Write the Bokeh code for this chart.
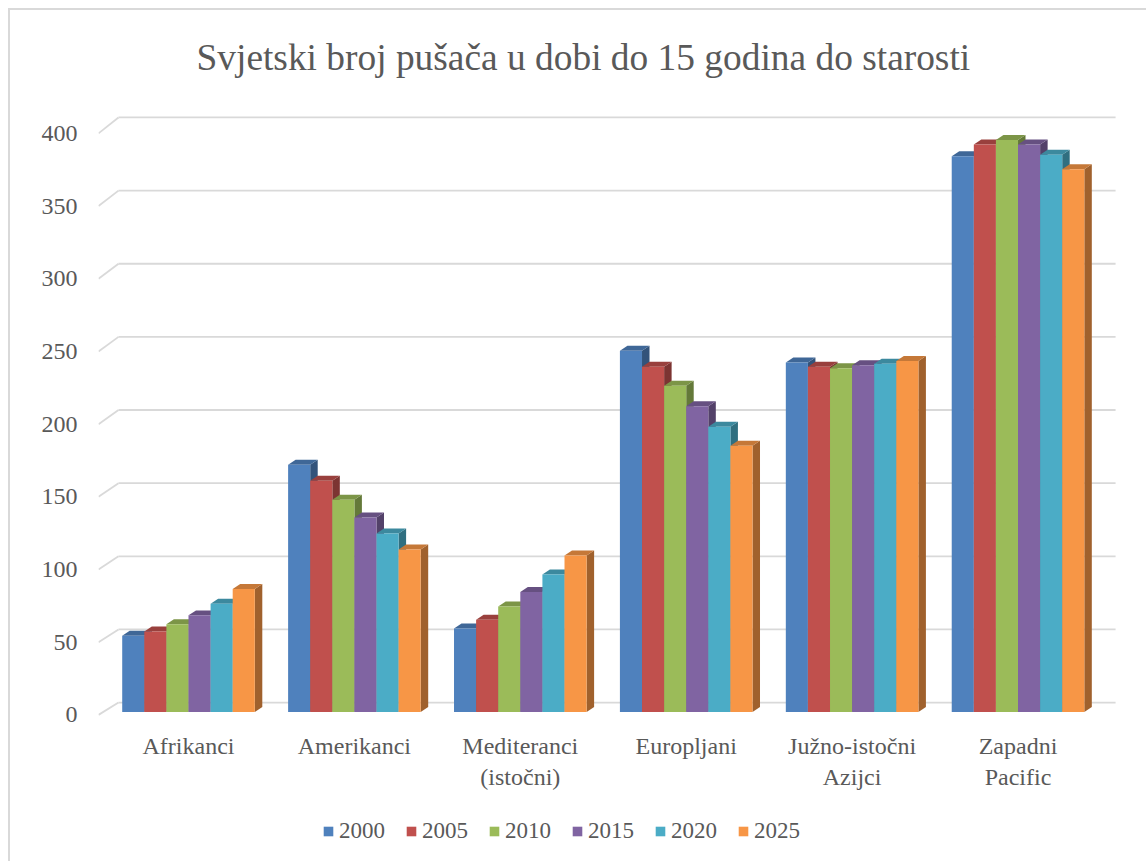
from bokeh.plotting import figure
from bokeh.models import Range1d, FixedTicker, Legend, LegendItem
from bokeh.embed import file_html
from bokeh.resources import INLINE

# ---------------- data ----------------
categories = ["Afrikanci", "Amerikanci", "Mediteranci\n(istočni)", "Europljani",
              "Južno-istočni\nAzijci", "Zapadni\nPacific"]
years = ["2000", "2005", "2010", "2015", "2020", "2025"]
v2000 = [52, 169, 57, 247, 239, 380]
v2005 = [55, 158, 63, 236, 236, 388]
v2010 = [60, 145, 72, 223, 235, 391]
v2015 = [66, 133, 82, 209, 237, 388]
v2020 = [74, 122, 94, 195, 238, 381]
v2025 = [84, 111, 107, 182, 240, 371]
series = [v2000, v2005, v2010, v2015, v2020, v2025]
y_ticks = [0, 50, 100, 150, 200, 250, 300, 350, 400]
title_text = "Svjetski broj pušača u dobi do 15 godina do starosti"

# ---------------- style ----------------
colors = ["#4F81BD", "#C0504D", "#9BBB59", "#8064A2", "#4BACC6", "#F79646"]
FONT = "Liberation Serif"
TXT = "#595959"
GRID = "#D9D9D9"

def shade(hexc, f):
    h = hexc.lstrip("#")
    r, g, b = (int(h[i:i + 2], 16) for i in (0, 2, 4))
    return "#%02x%02x%02x" % (int(r * f), int(g * f), int(b * f))

# pseudo-3D geometry (data units)
BAR_W = 0.1332
DX, DY = 0.0452, 3.43          # bar depth
BASE, SCALE = 2.06, 1.006       # bar plane relative to front axis plane
X_LEFT, X_RIGHT = -0.5425, 5.678
WALL_X0, WALL_X1 = -0.422, 5.588
WALL_OFF, WALL_SCALE = 8.44, 1.00638

p = figure(width=1138, height=853, output_backend="svg", toolbar_location=None,
           x_range=Range1d(X_LEFT, X_RIGHT), y_range=Range1d(-96.74, 421.27),
           min_border_left=88, min_border_right=18, min_border_top=90,
           min_border_bottom=8)
p.styles = {"margin-left": "8px", "margin-top": "8px",
            "border-left": "2px solid #D9D9D9", "border-top": "2px solid #D9D9D9"}
p.outline_line_color = None
p.xgrid.visible = False
p.ygrid.visible = False
p.background_fill_color = "white"
p.border_fill_color = "white"

# title
p.title.text = title_text
p.title.align = "left"
p.title.offset = 98
p.title.standoff = 49
p.title.text_font = FONT
p.title.text_font_size = "37.4px"
p.title.text_font_style = "normal"
p.title.text_color = TXT

# gridlines (back wall + floor diagonal)
gx0, gy0, gx1, gy1 = [], [], [], []
for t in y_ticks:
    back = WALL_OFF + WALL_SCALE * t
    gx0 += [X_LEFT, WALL_X0]
    gy0 += [t, back]
    gx1 += [WALL_X0, WALL_X1]
    gy1 += [back, back]
p.segment(gx0, gy0, gx1, gy1, line_color=GRID, line_width=1.8)

# bars
items = []
for j, (vals, col, yr) in enumerate(zip(series, colors, years)):
    xc = [i + (j - 2.5) * BAR_W for i in range(len(categories))]
    bottoms = [BASE] * len(vals)
    tops = [BASE + SCALE * v for v in vals]
    x0 = [x - BAR_W / 2 for x in xc]
    x1 = [x + BAR_W / 2 for x in xc]
    side_xs = [[a, a + DX, a + DX, a] for a in x1]
    side_ys = [[b, b + DY, t + DY, t] for b, t in zip(bottoms, tops)]
    top_xs = [[a, b, b + DX, a + DX] for a, b in zip(x0, x1)]
    top_ys = [[t, t, t + DY, t + DY] for t in tops]
    p.patches(side_xs, side_ys, fill_color=shade(col, 0.65), line_color=None)
    p.patches(top_xs, top_ys, fill_color=shade(col, 0.8), line_color=None)
    r = p.vbar(x=xc, width=BAR_W, bottom=bottoms, top=tops, fill_color=col,
               line_color=None)
    items.append(LegendItem(label=yr, renderers=[r]))

# axes
ya = p.yaxis[0]
ya.ticker = FixedTicker(ticks=y_ticks)
ya.axis_line_color = None
ya.major_tick_line_color = None
ya.minor_tick_line_color = None
ya.major_tick_out = 0
ya.major_label_standoff = 21
ya.major_label_text_font = FONT
ya.major_label_text_font_size = "24px"
ya.major_label_text_color = TXT

xa = p.xaxis[0]
xa.ticker = FixedTicker(ticks=list(range(len(categories))))
xa.major_label_overrides = {i: c for i, c in enumerate(categories)}
xa.axis_line_color = None
xa.major_tick_line_color = None
xa.minor_tick_line_color = None
xa.major_tick_out = 0
xa.major_tick_in = 0
xa.major_label_standoff = -123
xa.major_label_text_font = FONT
xa.major_label_text_font_size = "24px"
xa.major_label_text_color = TXT

legend = Legend(items=items, orientation="horizontal", location=(224, 11),
                glyph_width=12, glyph_height=12, label_standoff=5, spacing=20,
                padding=0, margin=0, border_line_color=None,
                background_fill_alpha=0, label_text_font=FONT,
                label_text_font_style="normal",
                label_text_font_size="23px", label_text_color=TXT)
p.add_layout(legend)

open("out.html", "w").write(file_html(p, INLINE))
